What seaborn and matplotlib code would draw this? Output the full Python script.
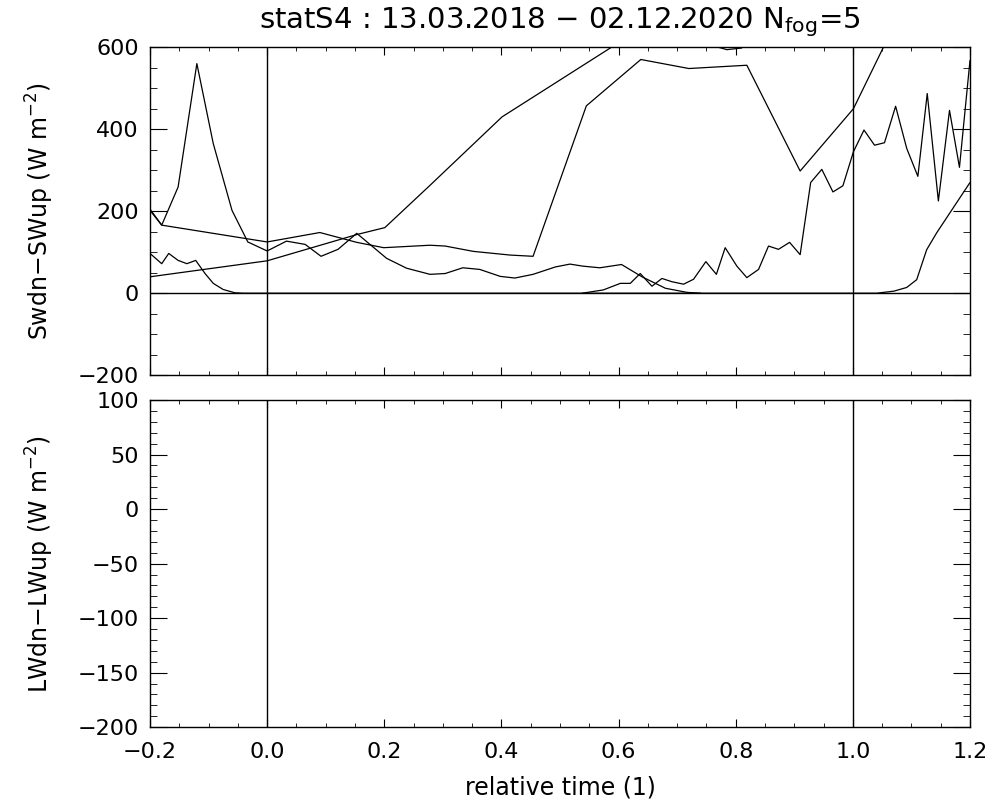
import numpy as np
import pandas as pd
import matplotlib
matplotlib.use("Agg")
import matplotlib.pyplot as plt
import seaborn as sns
from matplotlib.ticker import MultipleLocator, FuncFormatter

# fog events, net shortwave
x_a = [-0.200, -0.180, -0.152, -0.120, -0.092, -0.060, -0.033, 0.000, 0.033, 0.065,
       0.092, 0.121, 0.153, 0.204, 0.238, 0.278, 0.304, 0.334, 0.363, 0.398,
       0.423, 0.454, 0.492, 0.517, 0.539, 0.568, 0.605, 0.640, 0.680, 0.717, 0.740]
y_a = [202, 166, 259, 560, 365, 202, 125, 103, 127, 119,
       90, 107, 146, 85, 61, 46, 48, 62, 58, 41,
       37, 46, 64, 71, 66, 62, 70, 40, 12, 2, 0]

x_b = [-0.200, -0.180, 0.000, 0.090, 0.153, 0.199, 0.278, 0.304, 0.352, 0.415,
       0.454, 0.545, 0.638, 0.720, 0.819, 0.910, 1.001, 1.100, 1.200]
y_b = [205, 166, 125, 148, 124, 111, 117, 115, 102, 93,
       90, 457, 570, 548, 556, 298, 450, 740, 900]

x_c = [-0.200, 0.000, 0.153, 0.201, 0.278, 0.401, 0.588, 0.680, 0.765, 0.785,
       0.810, 0.900, 1.200]
y_c = [40, 79, 143, 160, 263, 430, 600, 690, 602, 594,
       598, 700, 900]

x_d = [-0.200, -0.180, -0.168, -0.152, -0.137, -0.122, -0.106, -0.092, -0.075, -0.055,
       -0.040, 1.041, 1.070, 1.092, 1.109, 1.126, 1.143, 1.200]
y_d = [97, 72, 97, 80, 72, 80, 48, 24, 9, 1,
       0, 0, 5, 14, 33, 106, 147, 270]

x_e = [0.538, 0.574, 0.603, 0.620, 0.637, 0.657, 0.674, 0.691, 0.711, 0.728,
       0.749, 0.767, 0.782, 0.802, 0.819, 0.839, 0.856, 0.873, 0.892, 0.910,
       0.928, 0.947, 0.966, 0.983, 1.001, 1.019, 1.037, 1.054, 1.073, 1.092,
       1.111, 1.127, 1.146, 1.165, 1.182, 1.200]
y_e = [0, 8, 24, 24, 48, 17, 36, 28, 22, 34,
       77, 46, 111, 66, 38, 58, 115, 107, 124, 94,
       270, 302, 247, 262, 345, 398, 361, 367, 456, 353,
       285, 487, 225, 446, 307, 568]

series = [(x_a, y_a), (x_b, y_b), (x_c, y_c), (x_d, y_d), (x_e, y_e)]
frames = []
for i, (xx, yy) in enumerate(series):
    frames.append(pd.DataFrame({"t": xx, "sw": yy, "event": i}))
df = pd.concat(frames, ignore_index=True)

sns.set_style("ticks")
plt.rcParams["font.family"] = ["DejaVu Sans"]
plt.rcParams["axes.linewidth"] = 1.0
for k in ["text.color", "axes.labelcolor", "xtick.color", "ytick.color", "axes.edgecolor"]:
    plt.rcParams[k] = "black"

fig = plt.figure(figsize=(10, 8), dpi=100)
ax1 = fig.add_axes([0.15, 0.531, 0.82, 0.41])
ax2 = fig.add_axes([0.15, 0.091, 0.82, 0.409])

sns.lineplot(data=df, x="t", y="sw", units="event", estimator=None, sort=False,
             color="black", lw=0.9, ax=ax1, legend=False)

ax1.axhline(0, color="black", lw=1.0)
for ax in (ax1, ax2):
    ax.axvline(0, color="black", lw=1.0)
    ax.axvline(1, color="black", lw=1.0)

ax1.set_xlim(-0.2, 1.2)
ax1.set_ylim(-200, 600)
ax2.set_xlim(-0.2, 1.2)
ax2.set_ylim(-200, 100)

fmt_x = FuncFormatter(lambda v, p: ("%.1f" % v).replace("-", "\u2212"))
fmt_y = FuncFormatter(lambda v, p: ("%d" % round(v)).replace("-", "\u2212"))

for ax in (ax1, ax2):
    ax.xaxis.set_major_locator(MultipleLocator(0.2))
    ax.xaxis.set_minor_locator(MultipleLocator(0.05))
    ax.xaxis.set_major_formatter(fmt_x)
    ax.yaxis.set_major_formatter(fmt_y)
    ax.tick_params(axis="both", which="both", direction="in", top=True, right=True,
                   labelsize=16, colors="black")
    ax.tick_params(axis="x", which="major", length=6, pad=11)
    ax.tick_params(axis="x", which="minor", length=3)
    ax.tick_params(axis="y", which="major", length=12, pad=8)
    ax.tick_params(axis="y", which="minor", length=5)
    for s in ax.spines.values():
        s.set_visible(True)
        s.set_color("black")

ax1.yaxis.set_major_locator(MultipleLocator(200))
ax1.yaxis.set_minor_locator(MultipleLocator(50))
ax2.yaxis.set_major_locator(MultipleLocator(50))
ax2.yaxis.set_minor_locator(MultipleLocator(10))
ax1.tick_params(axis="x", labelbottom=False)

ax1.set_xlabel("")
ax1.set_ylabel("Swdn\u2212SWup (W m$^{-2}$)", fontsize=17)
ax2.set_ylabel("LWdn\u2212LWup (W m$^{-2}$)", fontsize=17)
ax2.set_xlabel("relative time (1)", fontsize=17)
ax1.yaxis.set_label_coords(-0.134, 0.5)
ax2.yaxis.set_label_coords(-0.134, 0.5)
ax1.yaxis.label.set_ha("center")
ax2.yaxis.label.set_ha("center")
ax1.yaxis.label.set_va("center")
ax2.yaxis.label.set_va("center")
ax2.xaxis.set_label_coords(0.5, -0.185)
ax2.xaxis.label.set_va("center")

fig.text(0.56, 0.972, "statS4 : 13.03.2018 \u2212 02.12.2020 N$_{\\rm fog}$=5",
         ha="center", va="center", fontsize=21)

fig.savefig("out.png", dpi=100)
